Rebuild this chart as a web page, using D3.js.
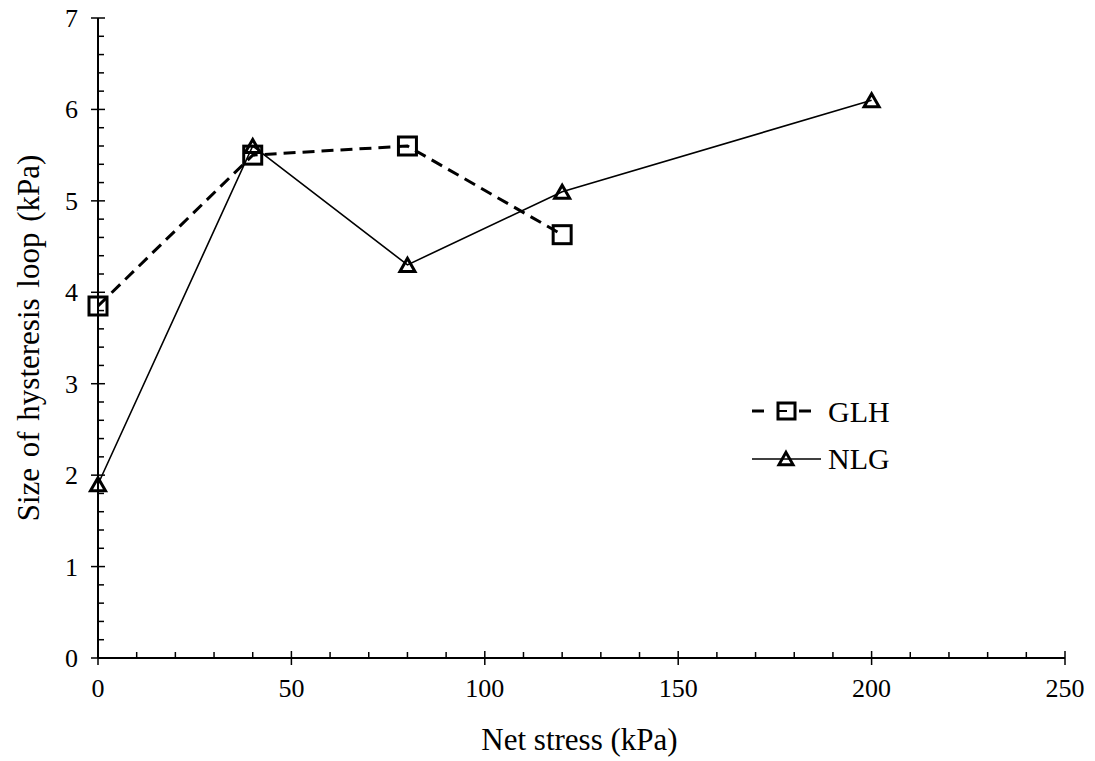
<!DOCTYPE html>
<html>
<head>
<meta charset="utf-8">
<script src="https://cdn.jsdelivr.net/npm/d3@7"></script>
<style>
  body { margin: 0; background: #fff; }
  svg { font-family: "Liberation Serif", "Times New Roman", serif; }
</style>
</head>
<body>
<script>
// Data
const glhStress = [0, 40, 80, 120];
const glhLoop = [3.85, 5.5, 5.6, 4.63];
const nlgStress = [0, 40, 80, 120, 200];
const nlgLoop = [1.9, 5.6, 4.3, 5.1, 6.1];

const xTicks = [0, 50, 100, 150, 200, 250];
const yTicks = [0, 1, 2, 3, 4, 5, 6, 7];

const width = 1095;
const height = 761;
const margin = {top: 18, right: 30, bottom: 103, left: 98};

const svg = d3.select('body').append('svg')
    .attr('width', width)
    .attr('height', height);

const x = d3.scaleLinear()
    .domain([0, 250])
    .range([margin.left, width - margin.right]);

const y = d3.scaleLinear()
    .domain([0, 7])
    .range([height - margin.bottom, margin.top]);

const x0 = x(0), y0 = y(0);

// minor ticks (inside only)
const xMinor = d3.range(0, 251, 10).filter(v => v % 50 !== 0);
const yMinor = d3.range(0, 7.01, 0.2).filter(v => Math.abs(v - Math.round(v)) > 0.01);

svg.append('g')
    .selectAll('line')
    .data(xMinor)
    .join('line')
    .attr('x1', d => x(d)).attr('x2', d => x(d))
    .attr('y1', y0).attr('y2', y0 - 6)
    .attr('stroke', '#000').attr('stroke-width', 1.5);

svg.append('g')
    .selectAll('line')
    .data(yMinor)
    .join('line')
    .attr('x1', x0).attr('x2', x0 + 6)
    .attr('y1', d => y(d)).attr('y2', d => y(d))
    .attr('stroke', '#000').attr('stroke-width', 1.5);

// major ticks cross the axis
svg.append('g')
    .selectAll('line')
    .data(xTicks)
    .join('line')
    .attr('x1', d => x(d)).attr('x2', d => x(d))
    .attr('y1', y0 - 7).attr('y2', y0 + 7)
    .attr('stroke', '#000').attr('stroke-width', 1.5);

svg.append('g')
    .selectAll('line')
    .data(yTicks)
    .join('line')
    .attr('x1', x0 - 7).attr('x2', x0 + 7)
    .attr('y1', d => y(d)).attr('y2', d => y(d))
    .attr('stroke', '#000').attr('stroke-width', 1.5);

// axis lines
svg.append('line')
    .attr('x1', x0).attr('x2', x(250))
    .attr('y1', y0).attr('y2', y0)
    .attr('stroke', '#000').attr('stroke-width', 2);
svg.append('line')
    .attr('x1', x0).attr('x2', x0)
    .attr('y1', y0).attr('y2', y(7))
    .attr('stroke', '#000').attr('stroke-width', 2);

// tick labels
svg.append('g')
    .selectAll('text')
    .data(xTicks)
    .join('text')
    .attr('x', d => x(d))
    .attr('y', y0 + 39)
    .attr('text-anchor', 'middle')
    .attr('font-size', 26)
    .text(d => d);

svg.append('g')
    .selectAll('text')
    .data(yTicks)
    .join('text')
    .attr('x', x0 - 20)
    .attr('y', d => y(d) + 9)
    .attr('text-anchor', 'end')
    .attr('font-size', 26)
    .text(d => d);

// axis titles
svg.append('text')
    .attr('x', (x0 + x(250)) / 2 - 2)
    .attr('y', 750)
    .attr('text-anchor', 'middle')
    .attr('font-size', 31)
    .text('Net stress (kPa)');

svg.append('text')
    .attr('transform', `translate(39, ${(y0 + y(7)) / 2}) rotate(-90)`)
    .attr('text-anchor', 'middle')
    .attr('font-size', 31)
    .attr('word-spacing', 3)
    .text('Size of hysteresis loop (kPa)');

// series
const glh = glhStress.map((s, i) => ({s, v: glhLoop[i]}));
const nlg = nlgStress.map((s, i) => ({s, v: nlgLoop[i]}));

const line = d3.line().x(d => x(d.s)).y(d => y(d.v));

const triPath = (cx, cy, r) => {
    const h = r * 1.75;
    return `M${cx},${cy - h / 2} L${cx + r},${cy + h / 2} L${cx - r},${cy + h / 2} Z`;
};

// NLG markers
svg.append('g')
    .selectAll('path')
    .data(nlg)
    .join('path')
    .attr('d', d => triPath(x(d.s), y(d.v), 7.5))
    .attr('fill', 'none')
    .attr('stroke', '#000')
    .attr('stroke-width', 3)
    .attr('stroke-linejoin', 'miter');

// GLH markers
svg.append('g')
    .selectAll('rect')
    .data(glh)
    .join('rect')
    .attr('x', d => x(d.s) - 9)
    .attr('y', d => y(d.v) - 9)
    .attr('width', 18)
    .attr('height', 18)
    .attr('fill', 'none')
    .attr('stroke', '#000')
    .attr('stroke-width', 3);

svg.append('path')
    .datum(nlg)
    .attr('d', line)
    .attr('fill', 'none')
    .attr('stroke', '#000')
    .attr('stroke-width', 1.6);

svg.append('path')
    .datum(glh)
    .attr('d', line)
    .attr('fill', 'none')
    .attr('stroke', '#000')
    .attr('stroke-width', 3)
    .attr('stroke-dasharray', '12,7');

// legend
const lg = svg.append('g');
lg.append('line')
    .attr('x1', 752).attr('x2', 764).attr('y1', 411).attr('y2', 411)
    .attr('stroke', '#000').attr('stroke-width', 3);
lg.append('line')
    .attr('x1', 799).attr('x2', 811).attr('y1', 411).attr('y2', 411)
    .attr('stroke', '#000').attr('stroke-width', 3);
lg.append('line')
    .attr('x1', 778).attr('x2', 787).attr('y1', 411).attr('y2', 411)
    .attr('stroke', '#000').attr('stroke-width', 2);
lg.append('rect')
    .attr('x', 778).attr('y', 403).attr('width', 17).attr('height', 16)
    .attr('fill', 'none').attr('stroke', '#000').attr('stroke-width', 3);
lg.append('text')
    .attr('x', 828).attr('y', 422)
    .attr('font-size', 30)
    .text('GLH');

lg.append('line')
    .attr('x1', 752).attr('x2', 821).attr('y1', 459).attr('y2', 459)
    .attr('stroke', '#000').attr('stroke-width', 1.6);
lg.append('path')
    .attr('d', triPath(786, 458.5, 7))
    .attr('fill', 'none').attr('stroke', '#000').attr('stroke-width', 3);
lg.append('text')
    .attr('x', 828).attr('y', 469)
    .attr('font-size', 30)
    .text('NLG');
</script>
</body>
</html>
